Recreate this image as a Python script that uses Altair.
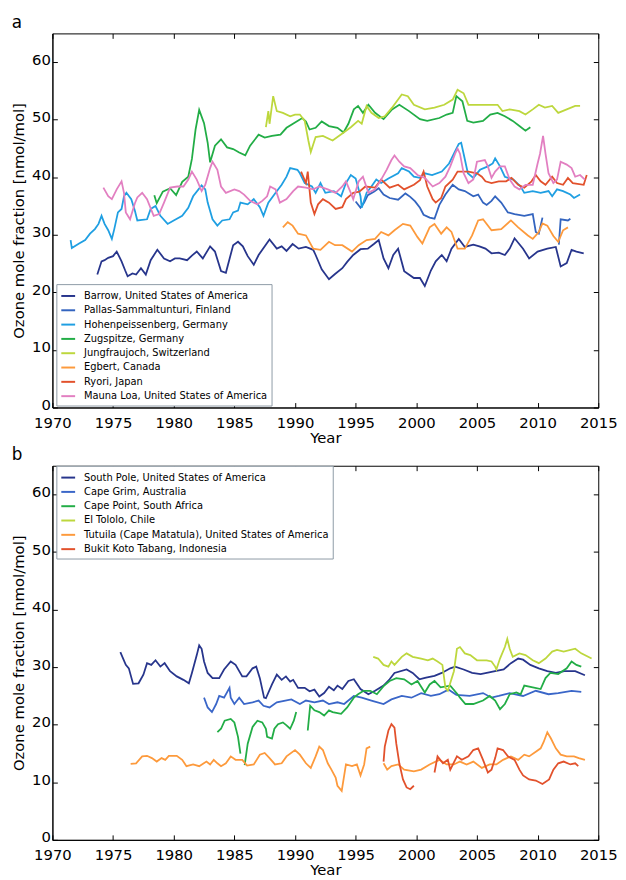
import altair as alt
import pandas as pd

# ---------------- Panel a data (year, ozone nmol/mol); None marks a gap ----------------
BARROW = [[1973.7,23.1],[1974.05,25.4],[1974.3,25.6],[1974.6,26.0],[1975.0,26.3],[1975.3,27.1],[1975.7,25.4],[1976.0,23.8],[1976.2,22.8],[1976.6,23.3],[1976.9,23.1],[1977.3,24.2],[1977.7,23.1],[1978.1,25.6],[1978.65,27.4],[1979.2,25.9],[1979.7,25.4],[1980.1,25.9],[1980.5,25.9],[1981.1,25.6],[1981.5,26.4],[1981.9,27.1],[1982.4,25.9],[1983.0,28.0],[1983.4,27.1],[1983.9,23.7],[1984.3,23.4],[1984.9,28.2],[1985.3,28.8],[1985.7,28.0],[1986.1,26.3],[1986.6,24.8],[1987.0,26.5],[1987.9,29.2],[1988.5,27.6],[1988.9,28.0],[1989.3,27.2],[1989.8,28.4],[1990.3,27.6],[1990.9,27.9],[1991.5,27.4],[1991.7,26.5],[1992.2,24.0],[1992.8,22.3],[1993.3,23.2],[1993.9,24.2],[1994.3,25.3],[1994.8,26.5],[1995.4,27.5],[1996.0,27.6],[1996.5,28.4],[1996.9,29.1],[1997.3,25.9],[1997.7,24.2],[1998.1,26.5],[1998.5,27.6],[1999.0,23.7],[1999.8,22.5],[2000.3,22.5],[2000.7,21.1],[2001.2,23.8],[2001.6,25.4],[2002.1,26.5],[2002.5,25.4],[2002.9,27.6],[2003.5,29.3],[2004.0,27.9],[2004.7,28.3],[2005.2,28.0],[2005.7,27.6],[2006.2,26.8],[2006.8,26.9],[2007.3,26.5],[2007.7,27.6],[2008.1,29.4],[2008.8,27.6],[2009.3,25.9],[2010.0,27.1],[2010.8,27.6],[2011.5,27.9],[2011.9,24.5],[2012.4,25.1],[2012.8,27.4],[2013.2,27.1],[2013.8,26.8]]
PALLAS = [[1995.0,35.8],[1995.4,34.7],[1995.7,35.6],[1996.0,36.9],[1996.5,37.5],[1996.9,38.1],[1997.3,37.0],[1997.8,36.4],[1998.5,36.1],[1999.1,37.2],[1999.5,36.6],[1999.9,35.8],[2000.3,34.7],[2000.6,33.5],[2001.1,33.0],[2001.5,32.8],[2001.9,35.2],[2002.4,37.0],[2003.0,38.7],[2003.5,37.9],[2004.0,37.6],[2004.7,36.7],[2005.1,37.0],[2005.5,35.6],[2005.8,35.2],[2006.2,35.9],[2006.5,36.7],[2007.0,35.6],[2007.55,33.9],[2008.1,33.6],[2008.9,33.3],[2009.6,33.6],[2009.85,30.5],[2010.1,30.2],[2010.4,33.0],None,[2011.75,28.3],[2011.9,32.7],[2012.5,32.5],[2012.7,32.8]]
HOHENPEISSENBERG = [[1971.5,29.1],[1971.6,27.7],[1972.2,28.5],[1972.7,29.1],[1973.1,30.2],[1973.5,31.0],[1973.8,31.9],[1974.05,33.3],[1974.3,31.9],[1974.6,30.8],[1974.9,29.3],[1975.1,31.0],[1975.4,33.9],[1975.7,34.5],[1975.9,36.7],[1976.1,37.3],[1976.5,36.2],[1976.8,34.2],[1977.0,32.5],[1977.8,32.7],[1978.1,34.5],[1978.5,35.0],[1978.9,33.3],[1979.5,31.9],[1980.0,32.5],[1980.7,33.3],[1981.2,34.7],[1981.6,36.7],[1982.3,38.6],[1982.6,37.9],[1982.8,35.6],[1983.2,32.7],[1983.6,31.6],[1984.0,32.5],[1984.6,32.7],[1984.9,33.9],[1985.3,34.2],[1985.5,35.6],[1986.1,35.3],[1986.6,36.2],[1987.1,34.8],[1987.4,33.3],[1987.8,35.6],[1988.4,37.3],[1988.9,38.7],[1989.3,40.1],[1989.6,41.6],[1990.2,41.3],[1990.4,40.7],[1990.8,39.0],[1991.4,38.4],[1991.7,37.3],[1992.1,39.0],[1992.5,37.3],[1993.2,37.6],[1993.8,36.7],[1994.2,39.0],[1994.6,40.4],[1995.0,39.8],[1995.4,36.7],[1995.5,34.7],[1995.9,37.3],[1996.3,38.4],[1996.7,39.6],[1997.1,39.0],[1997.7,39.8],[1998.5,40.7],[1998.8,41.6],[1999.4,41.0],[1999.8,40.1],[2000.3,39.9],[2000.7,40.7],[2001.3,40.4],[2002.1,41.0],[2002.7,42.4],[2003.1,44.1],[2003.5,45.8],[2003.7,46.0],[2003.9,44.1],[2004.25,40.7],[2004.7,39.9],[2005.25,41.3],[2005.9,41.9],[2006.3,42.4],[2006.5,43.3],[2006.9,41.9],[2007.3,40.1],[2008.0,39.6],[2008.6,38.4],[2008.9,37.3],[2009.6,37.6],[2010.25,37.3],[2010.9,37.6],[2011.2,36.7],[2011.6,37.9],[2012.1,37.6],[2012.7,37.0],[2013.0,36.4],[2013.5,37.0]]
ZUGSPITZE = [[1978.4,36.9],[1978.6,35.5],[1979.1,37.5],[1979.7,38.1],[1980.2,36.9],[1980.7,39.2],[1981.2,40.1],[1981.5,43.2],[1981.8,48.3],[1982.1,51.7],[1982.5,49.4],[1982.8,46.0],[1983.0,42.6],[1983.4,45.5],[1983.9,46.6],[1984.4,45.2],[1984.9,44.9],[1985.4,44.3],[1985.9,43.8],[1986.3,45.5],[1987.0,47.4],[1987.5,46.9],[1988.1,47.2],[1988.8,47.4],[1989.3,48.6],[1989.9,49.4],[1990.6,50.3],[1990.9,49.7],[1991.2,48.3],[1991.7,48.6],[1992.2,49.7],[1992.8,48.9],[1993.5,48.6],[1994.0,47.8],[1994.4,49.3],[1994.85,51.8],[1995.2,52.4],[1995.6,51.2],[1996.05,52.6],[1996.6,51.2],[1997.3,50.1],[1998.0,51.8],[1998.6,52.6],[1999.4,51.5],[2000.3,50.1],[2000.9,49.8],[2001.9,50.3],[2002.5,50.9],[2003.0,51.2],[2003.3,54.1],[2003.8,53.2],[2004.2,49.8],[2004.7,49.5],[2005.5,49.8],[2006.1,50.9],[2006.7,51.2],[2007.3,50.6],[2007.95,49.8],[2008.5,48.9],[2009.0,48.1],[2009.4,48.7]]
JUNGFRAUJOCH = [[1987.6,48.7],[1987.8,51.5],[1987.9,49.3],[1988.2,54.1],[1988.5,51.5],[1989.0,51.2],[1989.6,50.6],[1990.0,50.9],[1990.4,50.9],[1990.8,49.8],[1991.1,46.4],[1991.3,44.4],[1991.7,47.0],[1992.3,47.2],[1993.1,46.4],[1993.9,47.6],[1994.6,48.7],[1995.2,49.8],[1995.5,49.3],[1995.9,52.4],[1996.3,51.2],[1996.9,50.3],[1997.4,50.6],[1998.0,52.1],[1998.8,54.4],[1999.3,54.1],[1999.8,52.6],[2000.7,51.8],[2001.5,52.1],[2002.3,52.6],[2003.0,53.5],[2003.4,55.2],[2003.9,54.6],[2004.3,52.6],[2005.3,52.6],[2006.1,52.6],[2006.7,52.6],[2007.1,51.5],[2007.7,51.8],[2008.5,51.5],[2009.0,50.9],[2009.6,51.8],[2010.1,52.6],[2010.6,52.1],[2011.2,52.4],[2011.7,51.2],[2012.4,51.8],[2013.1,52.4],[2013.5,52.4]]
EGBERT = [[1989.0,31.3],[1989.4,32.2],[1989.8,31.6],[1990.25,30.2],[1990.9,29.9],[1991.5,27.6],[1992.1,27.4],[1992.8,28.8],[1993.3,28.2],[1993.9,28.2],[1994.7,27.1],[1995.25,28.2],[1995.9,29.1],[1996.6,29.3],[1997.1,30.5],[1997.7,29.9],[1998.2,30.8],[1998.9,31.9],[1999.5,31.6],[2000.1,29.6],[2000.5,28.5],[2001.1,31.3],[2001.5,31.9],[2002.05,30.2],[2002.5,31.3],[2002.9,30.5],[2003.4,27.6],[2004.0,27.6],[2004.6,29.9],[2005.1,32.5],[2005.5,32.7],[2006.2,30.8],[2007.0,31.0],[2007.8,32.5],[2008.4,31.3],[2009.2,29.9],[2009.6,29.3],[2010.1,30.5],[2010.4,32.0],[2010.8,31.6],[2011.3,29.8],[2011.7,28.8],[2012.1,30.8],[2012.5,31.3]]
RYORI = [[1990.5,41.0],[1990.9,39.0],[1991.05,41.0],[1991.3,35.6],[1991.6,33.6],[1991.9,35.3],[1992.3,36.2],[1992.8,35.6],[1993.35,34.5],[1993.9,34.8],[1994.2,36.2],[1994.8,37.3],[1995.3,37.5],[1995.8,38.4],[1996.6,38.2],[1997.1,39.6],[1997.8,38.2],[1998.5,38.7],[1999.0,37.9],[1999.8,38.7],[2000.3,39.5],[2000.6,41.0],[2000.9,38.4],[2001.35,36.2],[2001.6,35.6],[2002.05,36.4],[2002.4,38.4],[2003.0,39.6],[2003.4,41.0],[2004.3,41.0],[2005.0,40.7],[2005.4,40.1],[2005.7,39.3],[2006.2,39.0],[2006.8,39.3],[2007.4,39.3],[2007.85,39.9],[2008.4,38.7],[2008.9,38.2],[2009.5,39.3],[2009.85,40.4],[2010.25,39.3],[2010.65,38.7],[2011.2,40.1],[2011.6,39.0],[2012.1,38.7],[2012.5,39.9],[2012.9,39.0],[2013.8,38.7],[2014.05,40.4]]
MAUNA_LOA = [[1974.2,38.2],[1974.6,36.7],[1974.9,36.2],[1975.3,37.9],[1975.7,39.3],[1975.9,37.3],[1976.05,33.9],[1976.4,32.7],[1976.8,35.5],[1977.0,36.5],[1977.4,37.3],[1977.8,36.2],[1978.35,33.3],[1978.8,33.6],[1979.2,35.6],[1979.7,38.2],[1980.3,38.4],[1980.8,38.4],[1981.2,39.6],[1981.5,41.0],[1981.9,39.6],[1982.3,37.6],[1982.6,38.7],[1983.0,41.6],[1983.2,42.7],[1983.6,41.3],[1983.9,38.4],[1984.3,37.3],[1985.0,37.9],[1985.4,37.6],[1985.8,37.0],[1986.3,35.9],[1986.9,35.3],[1987.3,35.9],[1987.7,36.7],[1987.95,38.4],[1988.4,37.9],[1988.75,35.6],[1989.3,36.2],[1989.85,37.6],[1990.25,38.4],[1990.9,38.2],[1991.5,37.9],[1992.0,38.4],[1992.7,37.9],[1993.35,37.3],[1993.9,38.4],[1994.2,39.3],[1994.6,37.3],[1994.8,36.2],[1995.25,39.3],[1995.6,40.1],[1996.05,37.3],[1996.6,37.9],[1997.1,39.6],[1997.55,41.3],[1997.95,43.0],[1998.2,43.8],[1998.6,42.7],[1999.0,41.9],[1999.5,41.6],[2000.1,40.4],[2000.7,39.9],[2001.35,38.4],[2001.9,39.0],[2002.4,40.1],[2002.8,41.9],[2003.2,44.1],[2003.4,45.0],[2003.6,44.1],[2003.9,40.7],[2004.3,39.0],[2004.7,39.6],[2005.0,42.7],[2005.65,43.0],[2005.9,41.9],[2006.2,39.9],[2006.5,41.0],[2006.9,41.9],[2007.3,41.9],[2007.7,39.6],[2008.1,38.4],[2008.5,37.9],[2009.0,38.7],[2009.6,38.7],[2010.0,42.4],[2010.2,44.1],[2010.45,47.2],[2010.65,44.1],[2010.9,40.7],[2011.3,39.0],[2011.6,39.6],[2011.9,42.7],[2012.4,42.2],[2012.8,41.6],[2013.1,40.1],[2013.5,40.4],[2013.9,39.6]]

# ---------------- Panel b data ----------------
SOUTH_POLE = [[1975.6,32.6],[1976.05,30.4],[1976.3,29.8],[1976.65,27.1],[1977.1,27.2],[1977.5,28.7],[1977.8,30.7],[1978.15,30.4],[1978.5,31.2],[1978.9,30.1],[1979.25,30.7],[1979.7,29.3],[1980.25,28.4],[1980.8,27.8],[1981.25,27.2],[1981.5,29.0],[1981.9,32.1],[1982.1,33.8],[1982.3,33.2],[1982.5,31.0],[1982.8,29.0],[1983.2,28.1],[1983.75,28.1],[1984.15,29.6],[1984.7,31.0],[1985.1,30.4],[1985.65,28.4],[1986.0,28.4],[1986.5,29.8],[1986.8,30.1],[1987.1,28.1],[1987.45,24.7],[1987.6,24.6],[1988.1,27.0],[1988.5,28.7],[1988.9,27.8],[1989.25,28.4],[1989.6,27.5],[1989.85,27.8],[1990.25,26.4],[1990.8,26.4],[1991.2,25.8],[1991.6,26.1],[1992.0,24.9],[1992.4,25.5],[1992.8,26.6],[1993.2,26.0],[1993.5,26.8],[1993.9,26.2],[1994.4,27.6],[1994.85,27.9],[1995.4,26.2],[1996.05,25.3],[1996.6,25.9],[1997.3,26.8],[1997.8,27.9],[1998.2,29.0],[1999.2,29.6],[1999.7,29.0],[2000.25,27.9],[2000.8,28.2],[2001.5,28.5],[2002.1,29.0],[2002.8,29.8],[2003.2,30.1],[2003.9,29.6],[2004.6,29.0],[2005.3,28.8],[2005.8,29.0],[2006.5,29.3],[2007.2,29.6],[2007.8,30.7],[2008.4,31.5],[2008.8,31.3],[2009.4,30.4],[2010.1,29.8],[2010.8,29.3],[2011.5,29.0],[2012.2,29.3],[2013.1,29.3],[2013.9,28.6]]
CAPE_GRIM = [[1982.5,24.7],[1982.8,23.0],[1983.15,22.2],[1983.5,23.6],[1983.75,25.0],[1984.15,24.7],[1984.6,26.4],[1984.7,24.7],[1985.0,23.6],[1985.4,24.7],[1985.8,23.6],[1986.5,23.9],[1987.0,24.2],[1987.4,23.3],[1987.9,23.0],[1988.5,23.9],[1989.2,24.2],[1989.7,24.4],[1990.4,23.6],[1990.9,24.2],[1991.6,23.9],[1992.3,24.2],[1992.8,23.6],[1993.5,23.9],[1994.05,23.6],[1994.85,25.0],[1995.5,24.7],[1996.3,24.2],[1997.3,23.6],[1997.95,24.4],[1998.8,25.0],[1999.6,24.7],[2000.4,25.5],[2001.2,25.0],[2001.9,25.3],[2002.65,26.1],[2003.3,25.2],[2004.4,25.0],[2005.5,25.5],[2006.2,24.7],[2006.8,25.0],[2007.7,25.5],[2008.8,25.0],[2009.85,25.9],[2010.9,25.3],[2011.7,25.5],[2012.8,25.9],[2013.6,25.7]]
CAPE_POINT = [[1983.6,18.7],[1983.9,19.3],[1984.2,20.7],[1984.7,21.0],[1985.0,20.4],[1985.3,17.9],[1985.5,15.0],None,[1985.85,13.0],[1986.1,16.7],[1986.5,19.6],[1986.9,20.7],[1987.3,20.4],[1987.6,19.3],[1987.7,17.9],[1988.1,17.6],[1988.3,19.3],[1988.6,20.1],[1989.0,20.4],[1989.3,19.9],[1989.6,19.3],[1989.9,20.7],[1990.1,22.2],None,[1991.05,19.0],[1991.25,23.3],[1991.6,22.5],[1992.0,22.2],[1992.4,21.6],[1992.8,22.5],[1993.1,22.2],[1993.8,21.9],[1994.3,23.0],[1994.85,24.7],[1995.2,25.3],[1995.65,25.9],[1996.2,25.9],[1996.75,25.3],[1997.3,26.7],[1997.8,27.6],[1998.35,28.1],[1999.0,27.9],[1999.6,27.0],[2000.1,27.6],[2000.7,25.6],[2001.1,27.0],[2001.5,27.6],[2002.0,26.5],[2002.8,26.8],[2003.4,25.3],[2003.6,24.7],[2004.05,23.6],[2004.7,23.6],[2005.5,24.2],[2006.05,25.0],[2006.5,24.2],[2006.9,22.7],[2007.3,23.6],[2007.7,25.3],[2008.25,25.6],[2008.6,25.3],[2008.9,26.8],[2009.6,26.5],[2010.25,26.2],[2010.65,28.1],[2011.05,29.0],[2011.7,28.8],[2012.4,29.8],[2012.8,31.0],[2013.2,30.4],[2013.6,30.1]]
EL_TOLOLO = [[1996.45,31.8],[1996.85,31.5],[1997.3,30.4],[1997.7,30.1],[1997.95,31.0],[1998.2,30.4],[1998.8,31.8],[1999.2,32.4],[1999.7,31.8],[2000.4,31.5],[2000.95,31.2],[2001.35,31.5],[2001.75,31.0],[2002.15,30.4],[2002.4,26.4],[2002.6,25.9],[2003.1,29.3],[2003.35,33.2],[2003.6,33.5],[2004.0,32.4],[2004.45,32.1],[2005.0,31.2],[2005.8,31.2],[2006.2,31.0],[2006.5,30.1],[2006.6,29.6],[2006.9,31.5],[2007.3,33.5],[2007.5,34.9],[2007.7,33.2],[2007.95,31.8],[2008.5,32.4],[2009.0,32.1],[2009.6,31.2],[2010.1,30.7],[2010.65,31.5],[2011.2,32.7],[2011.6,33.0],[2012.15,32.7],[2013.1,33.2],[2013.6,32.4],[2014.45,31.5]]
TUTUILA = [[1976.45,13.2],[1976.9,13.3],[1977.4,14.5],[1977.8,14.6],[1978.2,14.2],[1978.6,13.6],[1979.0,14.2],[1979.3,13.9],[1979.6,14.6],[1980.25,14.6],[1980.7,13.9],[1981.05,12.8],[1981.6,13.1],[1982.1,12.8],[1982.7,13.6],[1983.0,13.1],[1983.3,13.9],[1983.6,13.3],[1983.9,12.8],[1984.3,13.3],[1984.7,14.5],[1985.1,13.9],[1985.65,13.9],[1986.05,12.9],[1986.6,13.1],[1987.1,14.8],[1987.5,15.1],[1987.9,14.2],[1988.35,13.1],[1988.9,13.3],[1989.3,14.5],[1990.0,15.6],[1990.4,14.8],[1990.9,13.3],[1991.3,12.5],[1991.7,14.5],[1992.0,16.2],[1992.3,15.6],[1992.7,13.3],[1993.0,12.2],[1993.35,10.8],[1993.5,9.4],[1993.85,8.5],[1994.2,13.1],[1994.7,12.8],[1995.1,13.1],[1995.4,11.2],[1995.7,13.1],[1995.9,15.9],[1996.2,16.2],None,[1997.3,13.3],[1997.6,12.2],[1997.95,12.8],[1998.5,13.1],[1999.0,12.2],[1999.8,11.9],[2000.4,12.2],[2001.1,13.1],[2001.9,13.9],[2002.5,13.1],[2003.1,13.1],[2003.6,13.6],[2004.15,13.1],[2004.7,13.6],[2005.4,12.5],[2006.05,13.1],[2006.6,13.1],[2007.15,13.9],[2007.8,14.5],[2008.4,13.9],[2008.9,14.8],[2009.3,14.5],[2009.85,15.3],[2010.25,15.9],[2010.5,17.0],[2010.8,18.7],[2011.1,17.6],[2011.5,15.9],[2011.9,14.8],[2012.4,14.5],[2013.0,14.5],[2013.4,14.2],[2013.9,13.9]]
BUKIT_KOTO_TABANG = [[1997.3,13.6],[1997.4,16.2],[1997.7,19.0],[1997.95,20.1],[1998.2,19.5],[1998.35,16.7],[1998.6,13.3],[1998.9,10.5],[1999.2,9.1],[1999.5,8.8],[1999.8,9.4],None,[2001.5,11.7],[2001.75,14.5],[2002.2,13.3],[2002.6,13.9],[2002.8,12.2],[2003.35,14.5],[2003.75,13.9],[2004.3,14.5],[2004.7,15.6],[2005.1,15.9],[2005.5,13.9],[2005.9,11.7],[2006.2,12.2],[2006.5,14.2],[2006.7,15.9],[2007.15,15.6],[2007.55,14.5],[2008.1,13.9],[2008.5,12.2],[2008.8,11.2],[2009.3,10.5],[2009.85,10.3],[2010.4,9.7],[2010.95,10.5],[2011.3,12.2],[2011.7,13.3],[2012.15,13.6],[2012.7,13.1],[2013.1,13.3],[2013.35,12.8]]

STATIONS_A = ["Barrow, United States of America", "Pallas-Sammaltunturi, Finland", "Hohenpeissenberg, Germany",
              "Zugspitze, Germany", "Jungfraujoch, Switzerland", "Egbert, Canada", "Ryori, Japan",
              "Mauna Loa, United States of America"]
SERIES_A = [BARROW, PALLAS, HOHENPEISSENBERG, ZUGSPITZE, JUNGFRAUJOCH, EGBERT, RYORI, MAUNA_LOA]
COLORS_A = ["#27358c", "#3364bf", "#1f9fe2", "#22ad46", "#bdd73d", "#fd9a3c", "#e2512c", "#e27fc1"]

STATIONS_B = ["South Pole, United States of America", "Cape Grim, Australia", "Cape Point, South Africa",
              "El Tololo, Chile", "Tutuila (Cape Matatula), United States of America", "Bukit Koto Tabang, Indonesia"]
SERIES_B = [SOUTH_POLE, CAPE_GRIM, CAPE_POINT, EL_TOLOLO, TUTUILA, BUKIT_KOTO_TABANG]
COLORS_B = ["#27358c", "#3a66c8", "#22ad46", "#bdd73d", "#fd9a3c", "#e2512c"]

X_TICKS = list(range(1970, 2016, 5))
Y_TICKS = list(range(0, 61, 10))
Y_TITLE = "Ozone mole fraction [nmol/mol]"


def to_frame(names, series):
    rows = []
    for name, pts in zip(names, series):
        seg = 0
        for p in pts:
            if p is None:
                seg += 1
                continue
            rows.append({"station": name, "seg": f"{name}|{seg}", "year": p[0], "value": p[1]})
    return pd.DataFrame(rows)


IN_TICK = alt.ExprRef(expr="-5")


def panel(letter, names, series, colors, legend_y):
    df = to_frame(names, series)
    xscale = alt.Scale(domain=[1970, 2015], nice=False, zero=False)
    yscale = alt.Scale(domain=[0, 65], nice=False)
    lines = alt.Chart(df).mark_line(strokeWidth=1.8).encode(
        x=alt.X("year:Q", scale=xscale,
                axis=alt.Axis(values=X_TICKS, format="d", title="Year", grid=False, labelFlush=False,
                              tickSize=IN_TICK, labelPadding=13, titlePadding=0)),
        y=alt.Y("value:Q", scale=yscale,
                axis=alt.Axis(values=Y_TICKS, title=Y_TITLE, grid=False, labelOffset=-3,
                              tickSize=IN_TICK, labelPadding=7, titlePadding=5)),
        color=alt.Color("station:N", sort=names,
                        scale=alt.Scale(domain=names, range=colors),
                        legend=alt.Legend(title=None, orient="none", legendX=4, legendY=legend_y)),
        detail="seg:N",
    )
    frame = alt.Chart(df).mark_line(opacity=0).encode(
        x=alt.X("year:Q", scale=xscale,
                axis=alt.Axis(orient="top", values=X_TICKS, labels=False, title=None, grid=False,
                              domain=False, tickSize=IN_TICK)),
        y=alt.Y("value:Q", scale=yscale,
                axis=alt.Axis(orient="right", values=Y_TICKS, labels=False, title=None, grid=False,
                              domain=False, tickSize=IN_TICK)),
        detail="seg:N",
    )
    return alt.layer(lines, frame).resolve_axis(x="independent", y="independent").properties(
        width=553, height=379,
        title=alt.TitleParams(letter, anchor="start", frame="bounds", fontSize=17,
                              fontWeight="normal", offset=1),
    )


chart_a = panel("a", STATIONS_A, SERIES_A, COLORS_A, 254)
chart_b = panel("b", STATIONS_B, SERIES_B, COLORS_B, 0)

chart = alt.vconcat(chart_a, chart_b, spacing=0).resolve_scale(color="independent").resolve_legend(
    color="independent"
).properties(
    padding={"left": 3, "top": 0, "right": 0, "bottom": 0}
).configure(font="DejaVu Sans").configure_view(
    stroke="black", strokeWidth=1
).configure_axis(
    domainColor="black", tickColor="black", labelColor="black", titleColor="black",
    labelFont="DejaVu Sans", titleFont="DejaVu Sans", labelFontSize=15, titleFontSize=15,
    titleFontWeight="normal", domainWidth=1,
).configure_legend(
    fillColor="white", strokeColor="#8d9aa6", padding=4, labelFont="DejaVu Sans",
    labelFontSize=10, labelColor="black", symbolType="stroke", symbolStrokeWidth=2,
    symbolSize=196, rowPadding=1.5, labelOffset=8, labelLimit=400, cornerRadius=0,
).configure_title(font="DejaVu Sans", color="black")

chart.save("out.html", embed_options={"renderer": "svg", "actions": False})
